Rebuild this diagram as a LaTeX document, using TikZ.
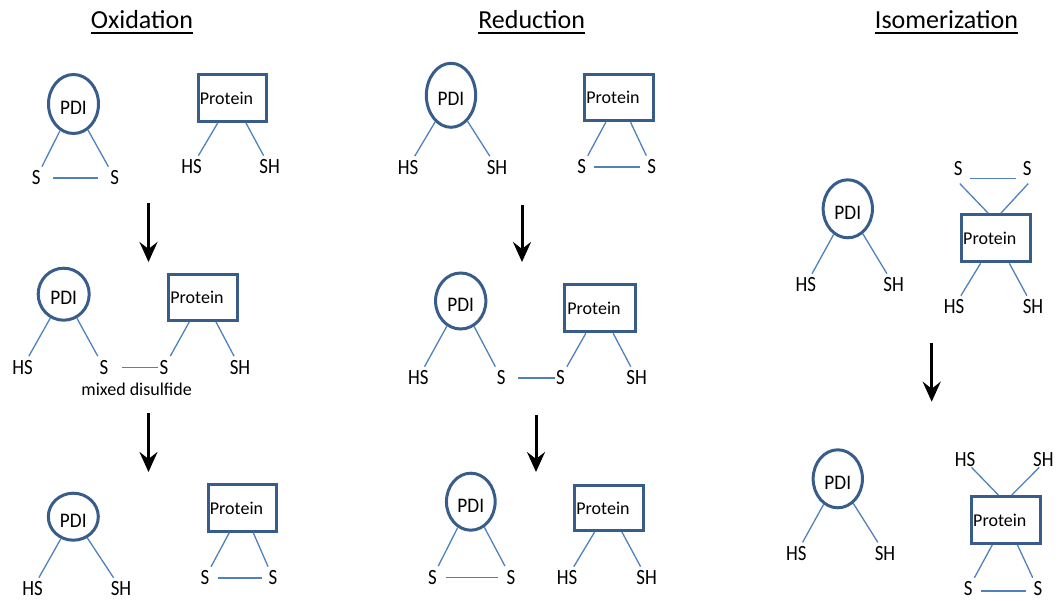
\documentclass[tikz,border=0pt]{standalone}
\usepackage{fontspec}
\setmainfont{Carlito}
\newfontfamily\grpfamily[FakeStretch=0.87]{Carlito}
\newfontfamily\pdifamily[FakeStretch=0.93]{Carlito}
\usetikzlibrary{shapes.geometric,arrows.meta}

\definecolor{rimblue}{RGB}{56,93,138}
\definecolor{bondblue}{RGB}{79,129,189}
\newcommand\grpfont{\grpfamily\fontsize{21.7}{24}\selectfont}
\newcommand\pdifont{\pdifamily\fontsize{20.7}{24}\selectfont}

\tikzset{
  pdi/.style={ellipse, draw=rimblue, line width=3pt, inner sep=0pt,
              text height=21pt, text depth=0pt, font=\pdifont},
  prot/.style={rectangle, draw=rimblue, line width=3pt, inner sep=0pt,
               font=\fontsize{18}{21}\selectfont},
  grp/.style={inner sep=4pt, font=\grpfont},
  bond/.style={draw=bondblue, line width=1.3pt},
  rxn/.style={line width=3pt, -{Stealth[length=20pt,width=18pt,inset=7pt]}},
  heading/.style={anchor=base, inner sep=0pt, font=\fontsize{26}{30}\selectfont},
  rule/.style={line width=2pt},
}

\begin{document}
\begin{tikzpicture}[x=1pt,y=-1pt]
\useasboundingbox (0,0) rectangle (1061,601);

% ---------- headings ----------
\node[heading] (tOx)  at (142,28.3)   {Oxidation};
\node[heading] (tRed) at (531.7,28.3) {Reduction};
\node[heading] (tIso) at (946.5,28.3) {Isomerization};
\foreach \t in {tOx,tRed,tIso}
  \draw[rule] ([yshift=-5pt]\t.base west) -- ([yshift=-5pt]\t.base east);

% ================= Oxidation =================
% PDI disulfide + reduced protein
\node[pdi, minimum width=50pt, minimum height=59pt] (pA1) at (73.5,104) {PDI};
\node[grp] (sA1) at (36.2,178) {S};
\node[grp] (sA2) at (114.7,178) {S};
\node[prot, minimum width=68.7pt, minimum height=46.3pt] (rA1) at (232.5,98) {Protein\hspace*{12pt}};
\node[grp] (hA1) at (191.7,167) {HS};
\node[grp] (hA2) at (269.7,167) {SH};
\draw[bond] (pA1) -- (sA1);
\draw[bond] (pA1) -- (sA2);
\draw[bond, shorten <=7.8pt, shorten >=7.8pt] (sA1) -- (sA2);
\draw[bond] (rA1) -- (hA1);
\draw[bond] (rA1) -- (hA2);

\coordinate (aA1s) at (148.5,203);
\coordinate (aA1e) at (148.5,262);
\draw[rxn] (aA1s) -- (aA1e);

% mixed disulfide intermediate
\node[pdi, minimum width=51pt, minimum height=52pt] (pA2) at (63.7,294.2) {PDI};
\node[grp] (hA3) at (22.5,367.5) {HS};
\node[grp] (sA3) at (104,367.5) {S};
\node[grp] (sA4) at (164,367.5) {S};
\node[grp] (hA4) at (240,367.5) {SH};
\node[prot, minimum width=69.6pt, minimum height=46pt] (rA2) at (203,297.2) {Protein\hspace*{12pt}};
\node[inner sep=0pt, font=\fontsize{18}{21}\selectfont] (mix) at (136.7,389) {mixed disulfide};
\draw[bond] (pA2) -- (hA3);
\draw[bond] (pA2) -- (sA3);
\draw[bond, shorten <=9pt, shorten >=-2.5pt] (sA3) -- (sA4);
\draw[bond] (rA2) -- (sA4);
\draw[bond] (rA2) -- (hA4);

\coordinate (aA2s) at (148.5,413);
\coordinate (aA2e) at (148.5,472);
\draw[rxn] (aA2s) -- (aA2e);

% reduced PDI + oxidized protein
\node[pdi, minimum width=50pt, minimum height=47pt] (pA3) at (73.3,516.7) {PDI};
\node[grp] (hA5) at (32.5,589) {HS};
\node[grp] (hA6) at (121,589) {SH};
\node[prot, minimum width=68.6pt, minimum height=46.3pt] (rA3) at (242.5,508) {Protein\hspace*{12pt}};
\node[grp] (sA5) at (205,578) {S};
\node[grp] (sA6) at (273,578) {S};
\draw[bond] (pA3) -- (hA5);
\draw[bond] (pA3) -- (hA6);
\draw[bond] (rA3) -- (sA5);
\draw[bond] (rA3) -- (sA6);
\draw[bond, shorten <=4pt, shorten >=2pt] (sA5) -- (sA6);

% ================= Reduction =================
\node[pdi, minimum width=49.3pt, minimum height=64pt] (pB1) at (451,95.3) {PDI};
\node[grp] (hB1) at (408,167.5) {HS};
\node[grp] (hB2) at (497,167.5) {SH};
\node[prot, minimum width=69pt, minimum height=46pt] (rB1) at (619,97.8) {Protein\hspace*{12pt}};
\node[grp] (sB1) at (581.7,167) {S};
\node[grp] (sB2) at (651.7,167) {S};
\draw[bond] (pB1) -- (hB1);
\draw[bond] (pB1) -- (hB2);
\draw[bond] (rB1) -- (sB1);
\draw[bond] (rB1) -- (sB2);
\draw[bond, shorten <=3.5pt, shorten >=3pt] (sB1) -- (sB2);

\coordinate (aB1s) at (522,205);
\coordinate (aB1e) at (522,262);
\draw[rxn] (aB1s) -- (aB1e);

\node[pdi, minimum width=50.3pt, minimum height=56pt] (pB2) at (460.7,301) {PDI};
\node[grp] (hB3) at (418.3,378) {HS};
\node[grp] (sB3) at (501.3,378) {S};
\node[grp] (sB4) at (560.5,378) {S};
\node[grp] (hB4) at (636.7,378) {SH};
\node[prot, minimum width=70.3pt, minimum height=47pt] (rB2) at (600,308.3) {Protein\hspace*{12pt}};
\draw[bond] (pB2) -- (hB3);
\draw[bond] (pB2) -- (sB3);
\draw[bond, shorten <=8.5pt, shorten >=-3pt] (sB3) -- (sB4);
\draw[bond] (rB2) -- (sB4);
\draw[bond] (rB2) -- (hB4);

\coordinate (aB2s) at (536,415);
\coordinate (aB2e) at (536,472);
\draw[rxn] (aB2s) -- (aB2e);

\node[pdi, minimum width=48.7pt, minimum height=57pt] (pB3) at (470.8,501.7) {PDI};
\node[grp] (sB5) at (432.5,577.5) {S};
\node[grp] (sB6) at (511,577.5) {S};
\node[prot, minimum width=68.7pt, minimum height=44.7pt] (rB3) at (609,508) {Protein\hspace*{12pt}};
\node[grp] (hB5) at (567,578) {HS};
\node[grp] (hB6) at (646.7,578) {SH};
\draw[bond] (pB3) -- (sB5);
\draw[bond] (pB3) -- (sB6);
\draw[bond, shorten <=4.5pt, shorten >=4.5pt] (sB5) -- (sB6);
\draw[bond] (rB3) -- (hB5);
\draw[bond] (rB3) -- (hB6);

% ================= Isomerization =================
\node[pdi, minimum width=49.3pt, minimum height=58pt] (pC1) at (847.8,208.8) {PDI};
\node[grp] (hC1) at (805.8,285) {HS};
\node[grp] (hC2) at (893.7,285) {SH};
\node[prot, minimum width=68.7pt, minimum height=47pt] (rC1) at (995.8,238.3) {Protein\hspace*{12pt}};
\node[grp] (sC1) at (958.3,168.3) {S};
\node[grp] (sC2) at (1027.2,168.3) {S};
\node[grp] (hC3) at (954,307) {HS};
\node[grp] (hC4) at (1033,307) {SH};
\draw[bond] (pC1) -- (hC1);
\draw[bond] (pC1) -- (hC2);
\draw[bond] ([xshift=1.5pt,yshift=-4pt]sC1.south) -- ([xshift=-7.5pt]rC1.north);
\draw[bond] ([xshift=1pt,yshift=-4pt]sC2.south) -- ([xshift=5pt]rC1.north);
\draw[bond, shorten <=3pt, shorten >=2.5pt] ([yshift=-10pt]sC1.east) -- ([yshift=-10pt]sC2.west);
\draw[bond] (rC1) -- (hC3);
\draw[bond] (rC1) -- (hC4);

\coordinate (aC1s) at (931.7,343);
\coordinate (aC1e) at (931.7,401.7);
\draw[rxn] (aC1s) -- (aC1e);

\node[pdi, minimum width=49.3pt, minimum height=58pt] (pC2) at (837.8,478.8) {PDI};
\node[grp] (hC5) at (796.3,553.7) {HS};
\node[grp] (hC6) at (885,553.7) {SH};
\node[prot, minimum width=68.7pt, minimum height=47pt] (rC2) at (1005.8,520) {Protein\hspace*{12pt}};
\node[grp] (hC7) at (965,460) {HS};
\node[grp] (hC8) at (1043.3,460) {SH};
\node[grp] (sC3) at (968.3,589) {S};
\node[grp] (sC4) at (1038,589) {S};
\draw[bond] (pC2) -- (hC5);
\draw[bond] (pC2) -- (hC6);
\draw[bond] ([xshift=6.5pt,yshift=4pt]hC7.south) -- ([xshift=-7.5pt]rC2.north);
\draw[bond] ([xshift=-4pt,yshift=4pt]hC8.south) -- ([xshift=6pt]rC2.north);
\draw[bond] (rC2) -- (sC3);
\draw[bond] (rC2) -- (sC4);
\draw[bond, shorten <=4.5pt, shorten >=3pt] ([yshift=-2pt]sC3.east) -- ([yshift=-2pt]sC4.west);
\end{tikzpicture}
\end{document}
